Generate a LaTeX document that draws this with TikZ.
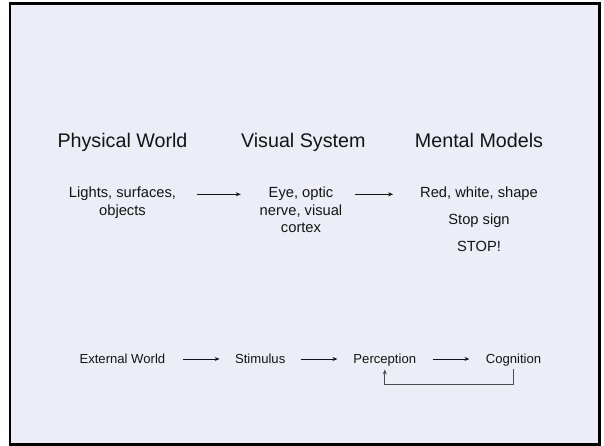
\documentclass[tikz,border=0pt]{standalone}
\usepackage{fontspec}
\setmainfont{Liberation Sans}
\usetikzlibrary{arrows.meta}

\definecolor{slidebg}{RGB}{237,237,247}
\definecolor{ink}{RGB}{20,20,20}

\tikzset{
  heading/.style={inner sep=0pt, anchor=base, text=ink, font=\fontsize{19.7pt}{23.6pt}\selectfont},
  body/.style={inner sep=0pt, anchor=base, text=ink, font=\fontsize{14.7pt}{17.6pt}\selectfont},
  chain/.style={inner sep=0pt, anchor=base, text=ink, font=\fontsize{13.1pt}{15.7pt}\selectfont},
  flow/.style={draw=ink, line width=0.8pt, -{Stealth[length=5pt,width=4pt]}},
  loopback/.style={draw=black!70, line width=0.8pt, -{Stealth[length=5pt,width=4pt]}},
}

\begin{document}
\begin{tikzpicture}[x=1pt,y=1pt]
  \useasboundingbox (0,0) rectangle (604,-446);
  \fill[white] (0,0) rectangle (604,-446);
  % slide frame
  \draw[line width=2.6pt, fill=slidebg] (10,-3.5) rectangle (599.5,-444.5);

  % column headings
  \node[heading] (hphys) at (122.5,-147.7) {Physical World};
  \node[heading] (hvis)  at (303.3,-147.7) {Visual System};
  \node[heading] (hment) at (479,-147.7)   {Mental Models};

  % physical world
  \node[body] (light1) at (122.5,-197.5) {Lights, surfaces,};
  \node[body] (light2) at (122.5,-215)   {objects};

  % visual system
  \node[body] (eye1) at (301,-197.5) {Eye, optic};
  \node[body] (eye2) at (301,-215)   {nerve, visual};
  \node[body] (eye3) at (301,-232.5) {cortex};

  % mental models
  \node[body] (red)  at (479,-197.5) {Red, white, shape};
  \node[body] (sign) at (479,-224.2) {Stop sign};
  \node[body] (stop) at (479,-251)   {STOP!};

  \draw[flow] ([xshift=20.5pt,yshift=3.2pt]light1.base east) -- ([xshift=-27.7pt,yshift=3.2pt]eye1.base west);
  \draw[flow] ([xshift=21.7pt,yshift=3.2pt]eye1.base east) -- ([xshift=-26.8pt,yshift=3.2pt]red.base west);

  % processing chain
  \node[chain] (ext)  at (122.4,-363.3) {External World};
  \node[chain] (stim) at (260.2,-363.3) {Stimulus};
  \node[chain] (perc) at (384.8,-363.3) {Perception};
  \node[chain] (cogn) at (513.5,-363.3) {Cognition};

  \draw[flow] ([xshift=17.4pt,yshift=4.3pt]ext.base east)  -- ([xshift=-15.2pt,yshift=4.3pt]stim.base west);
  \draw[flow] ([xshift=15.1pt,yshift=4.3pt]stim.base east) -- ([xshift=-15.9pt,yshift=4.3pt]perc.base west);
  \draw[flow] ([xshift=16.3pt,yshift=4.3pt]perc.base east) -- ([xshift=-16.2pt,yshift=4.3pt]cogn.base west);

  % feedback from cognition to perception
  \draw[loopback] ([yshift=-3.2pt]cogn.south) -- ++(0,-15pt) -| ([yshift=-3.2pt]perc.south);
\end{tikzpicture}
\end{document}
